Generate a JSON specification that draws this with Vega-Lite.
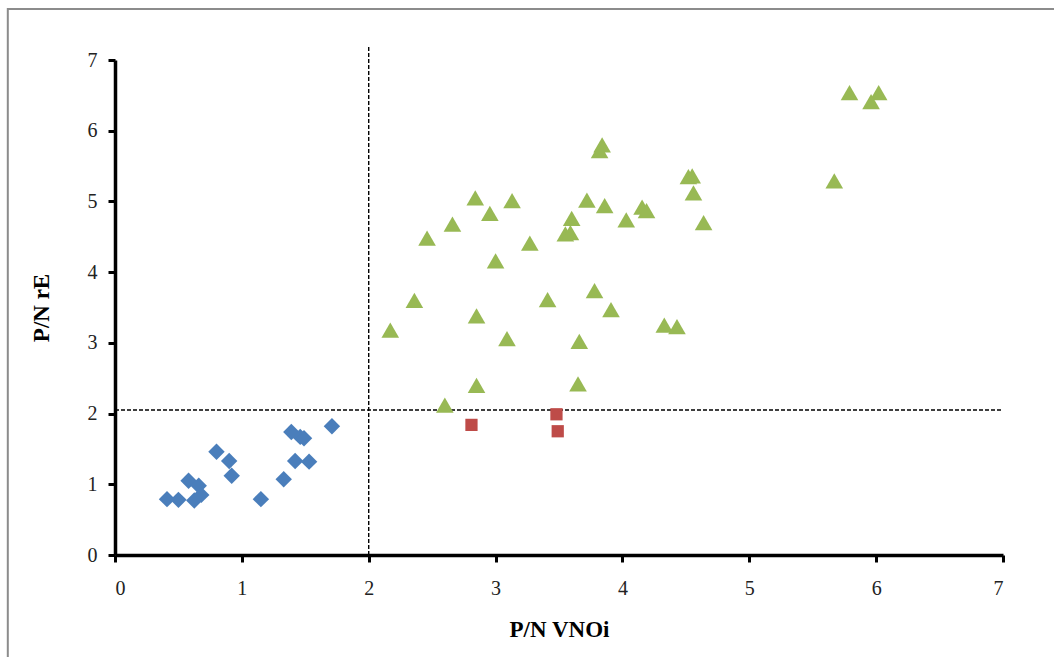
{
  "$schema": "https://vega.github.io/schema/vega-lite/v6.json",
  "width": 888,
  "height": 495,
  "autosize": {"type": "none"},
  "padding": {"left": 115, "top": 60, "right": 51, "bottom": 102},
  "background": "white",
  "config": {
    "view": {"stroke": null},
    "axis": {
      "grid": false,
      "domainColor": "black",
      "domainWidth": 3.5,
      "tickColor": "black",
      "tickWidth": 3,
      "tickSize": 7,
      "labelFont": "Times New Roman, Liberation Serif, serif",
      "labelFontSize": 20,
      "labelColor": "#222222",
      "format": "d",
      "titleFont": "Times New Roman, Liberation Serif, serif",
      "titleFontSize": 23,
      "titleFontWeight": "bold",
      "titleColor": "black"
    }
  },
  "datasets": {
    "pts": [
      {"g": "A", "vnoi": 0.41, "re": 0.79},
      {"g": "A", "vnoi": 0.50, "re": 0.78},
      {"g": "A", "vnoi": 0.58, "re": 1.05},
      {"g": "A", "vnoi": 0.66, "re": 0.98},
      {"g": "A", "vnoi": 0.68, "re": 0.85},
      {"g": "A", "vnoi": 0.625, "re": 0.77},
      {"g": "A", "vnoi": 0.80, "re": 1.46},
      {"g": "A", "vnoi": 0.90, "re": 1.33},
      {"g": "A", "vnoi": 0.92, "re": 1.12},
      {"g": "A", "vnoi": 1.15, "re": 0.79},
      {"g": "A", "vnoi": 1.33, "re": 1.07},
      {"g": "A", "vnoi": 1.39, "re": 1.74},
      {"g": "A", "vnoi": 1.46, "re": 1.67},
      {"g": "A", "vnoi": 1.49, "re": 1.65},
      {"g": "A", "vnoi": 1.42, "re": 1.33},
      {"g": "A", "vnoi": 1.53, "re": 1.32},
      {"g": "A", "vnoi": 1.71, "re": 1.82},
      {"g": "B", "vnoi": 2.81, "re": 1.84},
      {"g": "B", "vnoi": 3.48, "re": 1.99},
      {"g": "B", "vnoi": 3.49, "re": 1.75},
      {"g": "C", "vnoi": 2.17, "re": 3.18},
      {"g": "C", "vnoi": 2.36, "re": 3.60},
      {"g": "C", "vnoi": 2.46, "re": 4.48},
      {"g": "C", "vnoi": 2.66, "re": 4.68},
      {"g": "C", "vnoi": 2.84, "re": 5.05},
      {"g": "C", "vnoi": 2.955, "re": 4.83},
      {"g": "C", "vnoi": 3.13, "re": 5.01},
      {"g": "C", "vnoi": 3.00, "re": 4.16},
      {"g": "C", "vnoi": 3.27, "re": 4.41},
      {"g": "C", "vnoi": 2.85, "re": 3.38},
      {"g": "C", "vnoi": 3.09, "re": 3.06},
      {"g": "C", "vnoi": 2.85, "re": 2.40},
      {"g": "C", "vnoi": 2.60, "re": 2.12},
      {"g": "C", "vnoi": 3.41, "re": 3.61},
      {"g": "C", "vnoi": 3.78, "re": 3.74},
      {"g": "C", "vnoi": 3.91, "re": 3.47},
      {"g": "C", "vnoi": 3.66, "re": 3.02},
      {"g": "C", "vnoi": 3.65, "re": 2.42},
      {"g": "C", "vnoi": 3.82, "re": 5.72},
      {"g": "C", "vnoi": 3.84, "re": 5.80},
      {"g": "C", "vnoi": 3.72, "re": 5.02},
      {"g": "C", "vnoi": 3.86, "re": 4.94},
      {"g": "C", "vnoi": 3.60, "re": 4.76},
      {"g": "C", "vnoi": 3.55, "re": 4.54},
      {"g": "C", "vnoi": 3.59, "re": 4.56},
      {"g": "C", "vnoi": 4.03, "re": 4.74},
      {"g": "C", "vnoi": 4.155, "re": 4.92},
      {"g": "C", "vnoi": 4.19, "re": 4.87},
      {"g": "C", "vnoi": 4.33, "re": 3.25},
      {"g": "C", "vnoi": 4.43, "re": 3.23},
      {"g": "C", "vnoi": 4.52, "re": 5.35},
      {"g": "C", "vnoi": 4.55, "re": 5.36},
      {"g": "C", "vnoi": 4.56, "re": 5.12},
      {"g": "C", "vnoi": 4.64, "re": 4.70},
      {"g": "C", "vnoi": 5.67, "re": 5.29},
      {"g": "C", "vnoi": 5.79, "re": 6.54},
      {"g": "C", "vnoi": 6.02, "re": 6.54},
      {"g": "C", "vnoi": 5.96, "re": 6.41}
    ],
    "refs": [
      {"x1": 2.0, "x2": 2.0, "y1": 0, "y2": 7.19},
      {"x1": 0, "x2": 7.0, "y1": 2.05, "y2": 2.05}
    ],
    "frame": [
      {"x1": -0.845, "x2": 7.6, "y1": -1.6, "y2": 7.72}
    ]
  },
  "encoding": {
    "x": {
      "field": "vnoi", "type": "quantitative",
      "scale": {"domain": [0, 7], "nice": false, "zero": true},
      "axis": {"title": "P/N VNOi", "values": [0, 1, 2, 3, 4, 5, 6, 7], "labelPadding": 16, "titlePadding": 20}
    },
    "y": {
      "field": "re", "type": "quantitative",
      "scale": {"domain": [0, 7], "nice": false, "zero": true},
      "axis": {"title": "P/N rE", "values": [0, 1, 2, 3, 4, 5, 6, 7], "labelPadding": 11, "titlePadding": 34}
    }
  },
  "layer": [
    {
      "data": {"name": "frame"},
      "mark": {"type": "rect", "fill": null, "stroke": "#8c8c8c", "strokeWidth": 2, "clip": false},
      "encoding": {
        "x": {"field": "x1", "type": "quantitative"},
        "x2": {"field": "x2"},
        "y": {"field": "y1", "type": "quantitative"},
        "y2": {"field": "y2"}
      }
    },
    {
      "data": {"name": "refs"},
      "mark": {"type": "rule", "color": "black", "strokeWidth": 1.4, "strokeDash": [4, 2], "clip": false},
      "encoding": {
        "x": {"field": "x1", "type": "quantitative"},
        "x2": {"field": "x2"},
        "y": {"field": "y1", "type": "quantitative"},
        "y2": {"field": "y2"}
      }
    },
    {
      "data": {"name": "pts"},
      "transform": [{"filter": "datum.g === 'A'"}],
      "mark": {"type": "point", "shape": "diamond", "filled": true, "opacity": 1, "strokeWidth": 0, "color": "#4a7ebb", "size": 270}
    },
    {
      "data": {"name": "pts"},
      "transform": [{"filter": "datum.g === 'B'"}],
      "mark": {"type": "point", "shape": "square", "filled": true, "opacity": 1, "strokeWidth": 0, "color": "#be4b48", "size": 150}
    },
    {
      "data": {"name": "pts"},
      "transform": [{"filter": "datum.g === 'C'"}],
      "mark": {"type": "point", "shape": "triangle-up", "filled": true, "opacity": 1, "strokeWidth": 0, "color": "#98b954", "size": 310}
    }
  ]
}
